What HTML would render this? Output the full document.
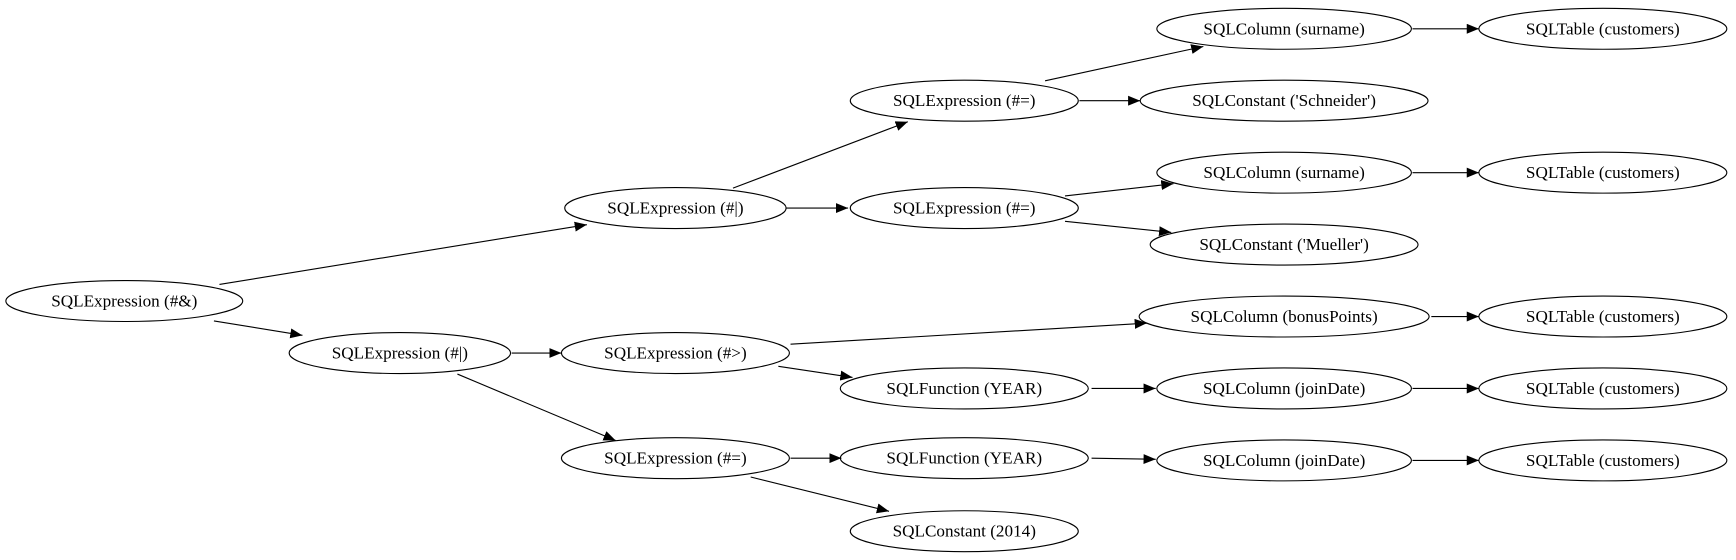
<!DOCTYPE html>
<html><head><meta charset="utf-8"><style>
html,body{margin:0;padding:0;background:#fff;}
svg{display:block;}
text{font-family:"Liberation Serif",serif;font-size:15.5px;text-anchor:middle;dominant-baseline:central;fill:#000;}
ellipse{fill:none;stroke:#000;stroke-width:1;}
line{stroke:#000;stroke-width:1;}
</style></head><body>
<svg width="1736" height="560" viewBox="0 0 1568 506" xmlns="http://www.w3.org/2000/svg">
<defs><marker id="a" markerWidth="11" markerHeight="9" refX="11" refY="4.5" orient="auto" markerUnits="userSpaceOnUse"><path d="M0,0 L11,4.5 L0,9 Z" fill="#000"/></marker></defs>
<g>
<ellipse cx="112" cy="272" rx="107" ry="18.5"/><text x="112" y="272">SQLExpression (#&amp;)</text>
<ellipse cx="610" cy="188" rx="100" ry="18.5"/><text x="610" y="188">SQLExpression (#|)</text>
<ellipse cx="361" cy="319" rx="100" ry="18.5"/><text x="361" y="319">SQLExpression (#|)</text>
<ellipse cx="871" cy="91" rx="103" ry="18.5"/><text x="871" y="91">SQLExpression (#=)</text>
<ellipse cx="871" cy="188" rx="103" ry="18.5"/><text x="871" y="188">SQLExpression (#=)</text>
<ellipse cx="610" cy="319" rx="103" ry="18.5"/><text x="610" y="319">SQLExpression (#&gt;)</text>
<ellipse cx="610" cy="414" rx="103" ry="18.5"/><text x="610" y="414">SQLExpression (#=)</text>
<ellipse cx="1160" cy="26" rx="115" ry="18.5"/><text x="1160" y="26">SQLColumn (surname)</text>
<ellipse cx="1448" cy="26" rx="112" ry="18.5"/><text x="1448" y="26">SQLTable (customers)</text>
<ellipse cx="1160" cy="91" rx="130" ry="18.5"/><text x="1160" y="91">SQLConstant ('Schneider')</text>
<ellipse cx="1160" cy="156" rx="115" ry="18.5"/><text x="1160" y="156">SQLColumn (surname)</text>
<ellipse cx="1448" cy="156" rx="112" ry="18.5"/><text x="1448" y="156">SQLTable (customers)</text>
<ellipse cx="1160" cy="221" rx="121" ry="18.5"/><text x="1160" y="221">SQLConstant ('Mueller')</text>
<ellipse cx="1160" cy="286" rx="131" ry="18.5"/><text x="1160" y="286">SQLColumn (bonusPoints)</text>
<ellipse cx="1448" cy="286" rx="112" ry="18.5"/><text x="1448" y="286">SQLTable (customers)</text>
<ellipse cx="871" cy="351" rx="112" ry="18.5"/><text x="871" y="351">SQLFunction (YEAR)</text>
<ellipse cx="1160" cy="351" rx="115" ry="18.5"/><text x="1160" y="351">SQLColumn (joinDate)</text>
<ellipse cx="1448" cy="351" rx="112" ry="18.5"/><text x="1448" y="351">SQLTable (customers)</text>
<ellipse cx="871" cy="414" rx="112" ry="18.5"/><text x="871" y="414">SQLFunction (YEAR)</text>
<ellipse cx="1160" cy="416" rx="115" ry="18.5"/><text x="1160" y="416">SQLColumn (joinDate)</text>
<ellipse cx="1448" cy="416" rx="112" ry="18.5"/><text x="1448" y="416">SQLTable (customers)</text>
<ellipse cx="871" cy="480" rx="103" ry="18.5"/><text x="871" y="480">SQLConstant (2014)</text>
</g>
<g marker-end="url(#a)">
<line x1="198" y1="257" x2="530" y2="203"/>
<line x1="193" y1="290" x2="273" y2="303"/>
<line x1="662" y1="170" x2="820" y2="110"/>
<line x1="710" y1="188" x2="766" y2="188"/>
<line x1="944" y1="73" x2="1087" y2="42"/>
<line x1="975" y1="91" x2="1030" y2="91"/>
<line x1="962" y1="177" x2="1060" y2="166"/>
<line x1="962" y1="200" x2="1058" y2="210"/>
<line x1="462" y1="319" x2="507" y2="319"/>
<line x1="413" y1="338" x2="556" y2="398"/>
<line x1="714" y1="311" x2="1036" y2="292"/>
<line x1="703" y1="331" x2="770" y2="341"/>
<line x1="714" y1="414" x2="760" y2="414"/>
<line x1="678" y1="431" x2="803" y2="462"/>
<line x1="1276" y1="26" x2="1336" y2="26"/>
<line x1="1276" y1="156" x2="1336" y2="156"/>
<line x1="1293" y1="286" x2="1336" y2="286"/>
<line x1="986" y1="351" x2="1044" y2="351"/>
<line x1="1276" y1="351" x2="1336" y2="351"/>
<line x1="986" y1="414" x2="1044" y2="415"/>
<line x1="1276" y1="416" x2="1336" y2="416"/>
</g>
</svg>
</body></html>
